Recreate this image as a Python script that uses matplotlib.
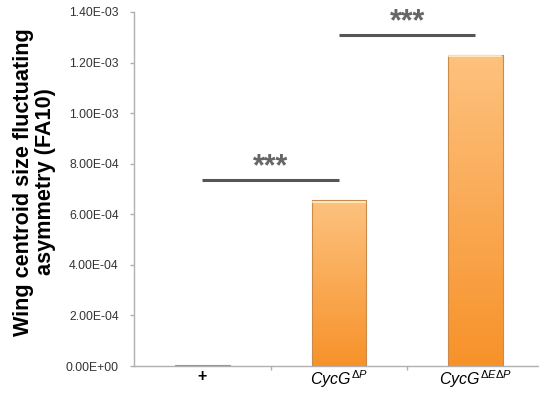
import numpy as np
import matplotlib.pyplot as plt
from matplotlib.colors import LinearSegmentedColormap

plt.rcParams['font.family'] = ['Liberation Sans', 'DejaVu Sans']
plt.rcParams['mathtext.fontset'] = 'custom'
plt.rcParams['mathtext.rm'] = 'Liberation Sans'
plt.rcParams['mathtext.it'] = 'Liberation Sans:italic'

genotypes = ['+', r'$CycG^{\Delta P}$', r'$CycG^{\Delta E \Delta P}$']
fa10 = [2e-6, 6.56e-4, 1.23e-3]
yticks = [0, 2e-4, 4e-4, 6e-4, 8e-4, 1e-3, 1.2e-3, 1.4e-3]
ytick_labels = ['0.00E+00', '2.00E-04', '4.00E-04', '6.00E-04',
                '8.00E-04', '1.00E-03', '1.20E-03', '1.40E-03']
# significance brackets: (from, to, height)
brackets = [(0, 1, 7.36e-4), (1, 2, 1.309e-3)]

fig = plt.figure(figsize=(5.39, 3.93), dpi=100)
ax = fig.add_axes([0.2486, 0.0687, 0.76, 0.9008])

x = np.arange(len(genotypes))
bars = ax.bar(x, fa10, width=0.40, color='none', edgecolor='#c98a4a',
              linewidth=0.8, zorder=3)

# vertical orange gradient inside each bar
cmap = LinearSegmentedColormap.from_list('orng', ['#f7922a', '#fdc27f'])
grad = np.linspace(0, 1, 256).reshape(-1, 1)
for b in bars:
    x0, y0 = b.get_x(), b.get_y()
    w, h = b.get_width(), b.get_height()
    im = ax.imshow(grad, cmap=cmap, origin='lower', aspect='auto',
                   extent=[x0, x0 + w, y0, y0 + h], zorder=2)
    im.set_clip_path(b)
    if h > 1e-5:
        ax.plot([x0 + 0.01, x0 + w - 0.01], [y0 + h - 6e-6] * 2,
                color='#fff0c8', lw=1.2, zorder=4)

for x1, x2, y in brackets:
    ax.plot([x1, x2], [y, y], color='#555555', lw=2.2, solid_capstyle='butt')
    ax.text((x1 + x2) / 2, y + 1.7e-5, '***', ha='center', va='baseline',
            fontsize=22, fontweight='bold', color='#666666')

ax.set_xlim(-0.5, 2.5)
ax.set_ylim(0, 1.4e-3)
ax.set_yticks(yticks)
ax.set_yticklabels(ytick_labels)
ax.set_xticks(x)
ax.set_xticklabels(genotypes)
ax.set_xticks([0.5, 1.5], minor=True)

for s in ['top', 'right']:
    ax.spines[s].set_visible(False)
for s in ['left', 'bottom']:
    ax.spines[s].set_color('#b0b0b0')
    ax.spines[s].set_linewidth(1)

ax.tick_params(axis='y', labelsize=8.7, colors='#b0b0b0', labelcolor='#333333',
               length=3, width=1, pad=8)
ax.tick_params(axis='x', which='major', length=0, labelsize=11.5, pad=2)
ax.tick_params(axis='x', which='minor', length=3, width=1, colors='#b0b0b0')
ax.get_xticklabels()[0].set_fontweight('bold')

ax.set_ylabel('Wing centroid size fluctuating\nasymmetry (FA10)',
              fontsize=15.6, fontweight='bold', linespacing=1.05)
ax.yaxis.set_label_coords(-0.19, 0.52)

fig.savefig('out.png', dpi=100)
